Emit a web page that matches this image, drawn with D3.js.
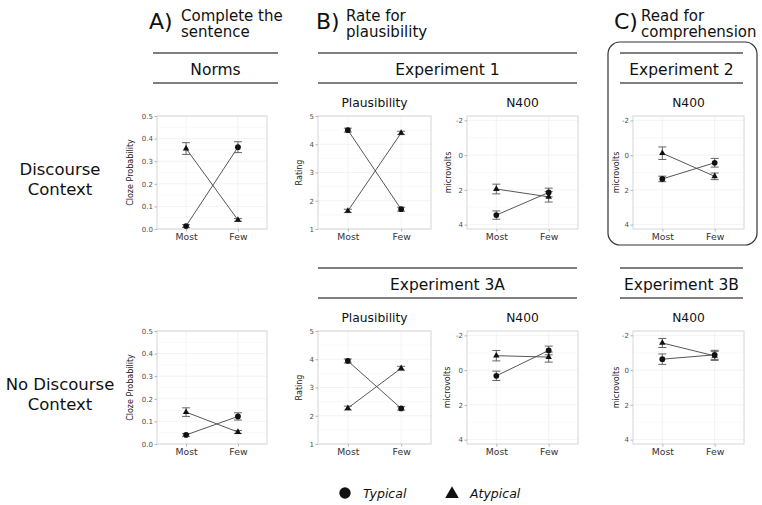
<!DOCTYPE html>
<html><head><meta charset="utf-8">
<script src="https://cdn.jsdelivr.net/npm/d3@7"></script>
<style>
html,body{margin:0;padding:0;background:#fff;}
svg{display:block;font-family:"DejaVu Sans",sans-serif;}
</style></head>
<body><svg id="c" width="762" height="505"></svg>
<script>
// ---------- data ----------
const conditions = ["Most", "Few"];
const seriesNames = ["Typical", "Atypical"];
const clozeTicks = [0, 0.1, 0.2, 0.3, 0.4, 0.5];
const ratingTicks = [1, 2, 3, 4, 5];
const uvTicks = [-2, 0, 2, 4];

const normsDiscTypical = [0.013, 0.362], normsDiscTypicalErr = [0.006, 0.024];
const normsDiscAtypical = [0.356, 0.040], normsDiscAtypicalErr = [0.026, 0.006];
const normsNoDiscTypical = [0.040, 0.122], normsNoDiscTypicalErr = [0.006, 0.016];
const normsNoDiscAtypical = [0.141, 0.053], normsNoDiscAtypicalErr = [0.019, 0.007];

const exp1PlausTypical = [4.50, 1.70], exp1PlausTypicalErr = [0.07, 0.07];
const exp1PlausAtypical = [1.64, 4.40], exp1PlausAtypicalErr = [0.06, 0.06];
const exp1N400Typical = [3.45, 2.15], exp1N400TypicalErr = [0.24, 0.25];
const exp1N400Atypical = [1.95, 2.40], exp1N400AtypicalErr = [0.28, 0.30];

const exp2N400Typical = [1.37, 0.44], exp2N400TypicalErr = [0.16, 0.25];
const exp2N400Atypical = [-0.11, 1.22], exp2N400AtypicalErr = [0.36, 0.19];

const exp3aPlausTypical = [3.94, 2.26], exp3aPlausTypicalErr = [0.07, 0.06];
const exp3aPlausAtypical = [2.27, 3.68], exp3aPlausAtypicalErr = [0.07, 0.07];
const exp3aN400Typical = [0.33, -1.13], exp3aN400TypicalErr = [0.27, 0.25];
const exp3aN400Atypical = [-0.83, -0.75], exp3aN400AtypicalErr = [0.30, 0.29];

const exp3bN400Typical = [-0.63, -0.88], exp3bN400TypicalErr = [0.30, 0.26];
const exp3bN400Atypical = [-1.56, -0.82], exp3bN400AtypicalErr = [0.26, 0.26];

// ---------- layout ----------
const svg = d3.select("#c");
const TOP = 116, BOT = 331, PH = 113;
const cloze = {domain: [0, 0.5], ticks: clozeTicks, fmt: d3.format(".1f"), minor: [0.05, 0.15, 0.25, 0.35, 0.45], title: "Cloze Probability"};
const rating = {domain: [1, 5], ticks: ratingTicks, fmt: d => String(d), minor: [1.5, 2.5, 3.5, 4.5], title: "Rating"};
const uv = {domain: [-2.25, 4.25], ticks: uvTicks, fmt: d => String(d), minor: [-1, 1, 3], title: "microvolts"};

const panels = [
  {x: 157, y: TOP, w: 110, ax: cloze, tx: 133, typ: normsDiscTypical, typE: normsDiscTypicalErr, aty: normsDiscAtypical, atyE: normsDiscAtypicalErr},
  {x: 318, y: TOP, w: 113, ax: rating, tx: 302, typ: exp1PlausTypical, typE: exp1PlausTypicalErr, aty: exp1PlausAtypical, atyE: exp1PlausAtypicalErr, sub: "Plausibility"},
  {x: 467, y: TOP, w: 111, ax: uv, tx: 451, typ: exp1N400Typical, typE: exp1N400TypicalErr, aty: exp1N400Atypical, atyE: exp1N400AtypicalErr, sub: "N400"},
  {x: 633, y: TOP, w: 111, ax: uv, tx: 619, typ: exp2N400Typical, typE: exp2N400TypicalErr, aty: exp2N400Atypical, atyE: exp2N400AtypicalErr, sub: "N400"},
  {x: 157, y: BOT, w: 110, ax: cloze, tx: 133, typ: normsNoDiscTypical, typE: normsNoDiscTypicalErr, aty: normsNoDiscAtypical, atyE: normsNoDiscAtypicalErr},
  {x: 318, y: BOT, w: 113, ax: rating, tx: 302, typ: exp3aPlausTypical, typE: exp3aPlausTypicalErr, aty: exp3aPlausAtypical, atyE: exp3aPlausAtypicalErr, sub: "Plausibility"},
  {x: 467, y: BOT, w: 111, ax: uv, tx: 450, typ: exp3aN400Typical, typE: exp3aN400TypicalErr, aty: exp3aN400Atypical, atyE: exp3aN400AtypicalErr, sub: "N400"},
  {x: 633, y: BOT, w: 111, ax: uv, tx: 619, typ: exp3bN400Typical, typE: exp3bN400TypicalErr, aty: exp3bN400Atypical, atyE: exp3bN400AtypicalErr, sub: "N400"}
];

const circleSym = d3.symbol().type(d3.symbolCircle);
const triSym = d3.symbol().type(d3.symbolTriangle);

panels.forEach(p => {
  const x = d3.scalePoint().domain(conditions).range([p.x, p.x + p.w]).padding(0.56);
  const y = d3.scaleLinear().domain(p.ax.domain).range([p.y, p.y + PH]);
  if (p.ax !== uv) y.range([p.y + PH, p.y]);
  const g = svg.append("g");
  // grid
  g.selectAll(".mi").data(p.ax.minor).join("line")
    .attr("x1", p.x).attr("x2", p.x + p.w).attr("y1", d => y(d)).attr("y2", d => y(d))
    .attr("stroke", "#f3f3f3").attr("stroke-width", 0.5);
  g.selectAll(".ma").data(p.ax.ticks).join("line")
    .attr("x1", p.x).attr("x2", p.x + p.w).attr("y1", d => y(d)).attr("y2", d => y(d))
    .attr("stroke", "#ebebeb").attr("stroke-width", 0.6);
  g.selectAll(".mx").data(conditions).join("line")
    .attr("x1", d => x(d)).attr("x2", d => x(d)).attr("y1", p.y).attr("y2", p.y + PH)
    .attr("stroke", "#ebebeb").attr("stroke-width", 0.6);
  g.append("rect").attr("x", p.x).attr("y", p.y).attr("width", p.w).attr("height", PH)
    .attr("fill", "none").attr("stroke", "#d6d6d6").attr("stroke-width", 1);
  // axes
  const ya = g.append("g").attr("transform", `translate(${p.x},0)`)
    .call(d3.axisLeft(y).tickValues(p.ax.ticks).tickFormat(p.ax.fmt).tickSize(2.5).tickPadding(1.5));
  ya.select(".domain").remove();
  ya.selectAll("line").attr("stroke", "#b3b3b3");
  ya.selectAll("text").attr("font-size", 7).attr("fill", "#4d4d4d").attr("font-family", "DejaVu Sans");
  const xa = g.append("g").attr("transform", `translate(0,${p.y + PH})`)
    .call(d3.axisBottom(x).tickSize(2.5).tickPadding(2));
  xa.select(".domain").remove();
  xa.selectAll("line").attr("stroke", "#b3b3b3");
  xa.selectAll("text").attr("font-size", 9.3).attr("fill", "#333").attr("font-family", "DejaVu Sans");
  g.append("text").attr("transform", `translate(${p.tx},${p.y + PH / 2}) rotate(-90)`)
    .attr("text-anchor", "middle").attr("font-size", 8).attr("fill", "#222").text(p.ax.title);
  if (p.sub) {
    g.append("text").attr("x", p.x + p.w / 2).attr("y", p.y - 9).attr("text-anchor", "middle")
      .attr("font-size", 12.3).attr("fill", "#111").text(p.sub);
  }
  // series
  const ser = [
    {name: seriesNames[0], v: p.typ, e: p.typE, sym: circleSym.size(26)},
    {name: seriesNames[1], v: p.aty, e: p.atyE, sym: triSym.size(18)}
  ];
  const line = d3.line().x((d, i) => x(conditions[i])).y(d => y(d));
  ser.forEach(s => {
    g.append("path").attr("d", line(s.v)).attr("fill", "none").attr("stroke", "#444").attr("stroke-width", 0.9);
  });
  ser.forEach(s => {
    s.v.forEach((v, i) => {
      const cx = x(conditions[i]);
      const lo = y(v - s.e[i]), hi = y(v + s.e[i]);
      g.append("path").attr("d", `M${cx - 4},${lo}H${cx + 4}M${cx},${lo}V${hi}M${cx - 4},${hi}H${cx + 4}`)
        .attr("fill", "none").attr("stroke", "#555").attr("stroke-width", 0.9);
    });
  });
  ser.forEach(s => {
    s.v.forEach((v, i) => {
      g.append("path").attr("d", s.sym()).attr("transform", `translate(${x(conditions[i])},${y(v)})`).attr("fill", "#111");
    });
  });
});

// ---------- headers ----------
function header(x1, x2, yTop, label) {
  svg.append("line").attr("x1", x1).attr("x2", x2).attr("y1", yTop).attr("y2", yTop).attr("stroke", "#555").attr("stroke-width", 1.5);
  svg.append("line").attr("x1", x1).attr("x2", x2).attr("y1", yTop + 30).attr("y2", yTop + 30).attr("stroke", "#555").attr("stroke-width", 1.5);
  svg.append("text").attr("x", (x1 + x2) / 2).attr("y", yTop + 22).attr("text-anchor", "middle").attr("font-size", 15.5).attr("fill", "#111").text(label);
}
header(153, 278, 53, "Norms");
header(318, 577, 53, "Experiment 1");
header(620, 743, 53, "Experiment 2");
header(318, 577, 268, "Experiment 3A");
header(620, 743, 268, "Experiment 3B");

svg.append("rect").attr("x", 608).attr("y", 42).attr("width", 149).attr("height", 203).attr("rx", 12)
  .attr("fill", "none").attr("stroke", "#333").attr("stroke-width", 1.2);

function task(x, letter, tx, l1, l2) {
  svg.append("text").attr("x", x).attr("y", 29).attr("font-size", 22).attr("fill", "#111").text(letter);
  svg.append("text").attr("x", tx).attr("y", 20.5).attr("font-size", 15).attr("fill", "#111").text(l1);
  svg.append("text").attr("x", tx).attr("y", 37).attr("font-size", 15).attr("fill", "#111").text(l2);
}
task(149, "A)", 181, "Complete the", "sentence");
task(316, "B)", 346, "Rate for", "plausibility");
task(614, "C)", 641, "Read for", "comprehension");

function rowLabel(y, l1, l2) {
  svg.append("text").attr("x", 60).attr("y", y).attr("text-anchor", "middle").attr("font-size", 16.5).attr("fill", "#111").text(l1);
  svg.append("text").attr("x", 60).attr("y", y + 20).attr("text-anchor", "middle").attr("font-size", 16.5).attr("fill", "#111").text(l2);
}
rowLabel(175, "Discourse", "Context");
rowLabel(390, "No Discourse", "Context");

// ---------- legend ----------
const leg = svg.append("g");
leg.append("path").attr("d", d3.symbol().type(d3.symbolCircle).size(102)()).attr("transform", "translate(345,493)").attr("fill", "#111");
leg.append("text").attr("x", 363).attr("y", 498).attr("font-size", 12.5).attr("font-style", "italic").attr("fill", "#111").text(seriesNames[0]);
leg.append("path").attr("d", d3.symbol().type(d3.symbolTriangle).size(80)()).attr("transform", "translate(452,494)").attr("fill", "#111");
leg.append("text").attr("x", 470).attr("y", 498).attr("font-size", 12.5).attr("font-style", "italic").attr("fill", "#111").text(seriesNames[1]);
</script></body></html>
